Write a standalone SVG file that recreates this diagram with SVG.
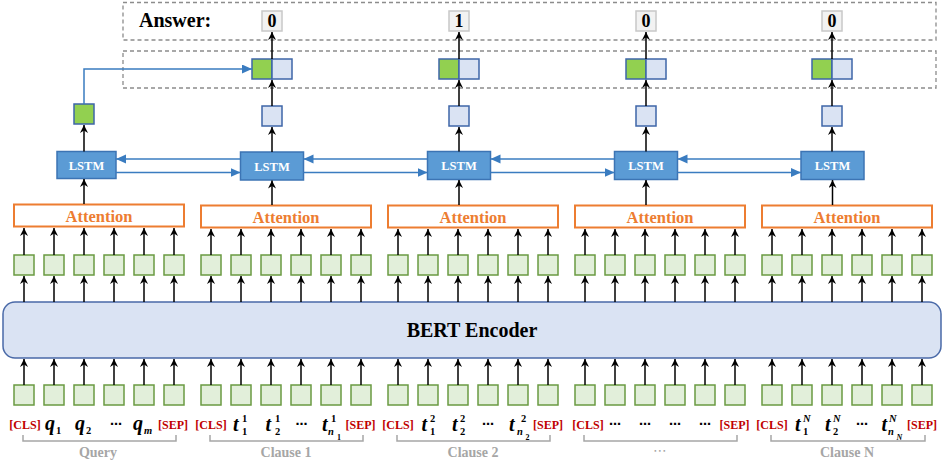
<svg xmlns="http://www.w3.org/2000/svg" width="942" height="467" viewBox="0 0 942 467">
<style>
.ser{font-family:"Liberation Serif","DejaVu Serif",serif;font-weight:bold}
.dash{fill:none;stroke:#8c8c8c;stroke-width:1.3;stroke-dasharray:4 3}
.ans{fill:#f2f2f2;stroke:#c8c8c8;stroke-width:1.5}
.ansT{font-size:18px;fill:#000;text-anchor:middle}
.gq{fill:#92d050;stroke:#3e66a8;stroke-width:1.5}
.bq{fill:#dae3f3;stroke:#3e66a8;stroke-width:1.5}
.lstm{fill:#5b9bd5;stroke:#3c74b4;stroke-width:1.5}
.lstmT{font-size:12.5px;fill:#fff;text-anchor:middle}
.att{fill:#fff;stroke:#ed7d31;stroke-width:2}
.attT{font-size:16.5px;fill:#ed7d31;text-anchor:middle}
.tk{fill:#e2efda;stroke:#6a9a42;stroke-width:1.5}
.bert{fill:#dae3f3;stroke:#4a6aa8;stroke-width:1.5}
.arr path{fill:none;stroke:#000;stroke-width:1.5;marker-end:url(#ah)}
.blu path{fill:none;stroke:#3a7cc0;stroke-width:1.5;marker-end:url(#bh)}
.sp{font-size:12px;fill:#c00000;text-anchor:middle}
.m{font-size:20px;font-style:italic;fill:#000}
.sd{font-size:10.5px;fill:#000}
.si{font-size:10.5px;font-style:italic;fill:#000}
.ss{font-size:8px;fill:#000}
.ssi{font-size:8px;font-style:italic;fill:#000}
.dots{font-family:"DejaVu Sans",sans-serif;font-size:12px;fill:#000;text-anchor:middle}
.br{fill:none;stroke:#a6a6a6;stroke-width:1.5}
.lab{font-size:14px;fill:#a6a6a6;text-anchor:middle}
</style>
<defs>
<marker id="ah" markerUnits="userSpaceOnUse" markerWidth="9" markerHeight="9" refX="8" refY="4" orient="auto" viewBox="0 0 9 9">
<path d="M0,0 L8,4 L0,8 L2.5,4 z" fill="#000"/>
</marker>
<marker id="bh" markerUnits="userSpaceOnUse" markerWidth="11" markerHeight="10" refX="10" refY="4.5" orient="auto" viewBox="0 0 11 10">
<path d="M0,0 L10,4.5 L0,9 z" fill="#3a7cc0"/>
</marker>
</defs>
<rect width="942" height="467" fill="#fff"/>

<g id="answer-row">
<rect class="dash" x="123" y="2.5" width="813" height="37.5"/>
<text class="ser" x="139" y="27" font-size="20">Answer:</text>
<rect class="ans" x="262" y="11" width="20" height="20"/><text class="ser ansT" x="272" y="27">0</text>
<rect class="ans" x="449" y="11" width="20" height="20"/><text class="ser ansT" x="459" y="27">1</text>
<rect class="ans" x="636" y="11" width="20" height="20"/><text class="ser ansT" x="646" y="27">0</text>
<rect class="ans" x="822" y="11" width="20" height="20"/><text class="ser ansT" x="832" y="27">0</text>
</g>

<g id="concat-row">
<rect class="dash" x="123" y="51" width="813" height="37"/>
<rect class="gq" x="252" y="59" width="20" height="20"/><rect class="bq" x="272" y="59" width="20" height="20"/>
<rect class="gq" x="439" y="59" width="20" height="20"/><rect class="bq" x="459" y="59" width="20" height="20"/>
<rect class="gq" x="626" y="59" width="20" height="20"/><rect class="bq" x="646" y="59" width="20" height="20"/>
<rect class="gq" x="812" y="59" width="20" height="20"/><rect class="bq" x="832" y="59" width="20" height="20"/>
</g>

<g id="hidden-states">
<rect class="gq" x="74" y="104" width="20" height="20"/>
<rect class="bq" x="262" y="106" width="20" height="20"/>
<rect class="bq" x="449" y="106" width="20" height="20"/>
<rect class="bq" x="636" y="106" width="20" height="20"/>
<rect class="bq" x="822" y="106" width="20" height="20"/>
</g>

<g id="lstm">
<rect class="lstm" x="57" y="151.5" width="59" height="27"/><text class="ser lstmT" x="86.5" y="169.5">LSTM</text>
<rect class="lstm" x="240.5" y="152" width="63" height="28"/><text class="ser lstmT" x="272" y="170.5">LSTM</text>
<rect class="lstm" x="427.5" y="151.5" width="63" height="28"/><text class="ser lstmT" x="459" y="170">LSTM</text>
<rect class="lstm" x="614.5" y="151.5" width="63" height="28"/><text class="ser lstmT" x="646" y="170">LSTM</text>
<rect class="lstm" x="801" y="151.5" width="63" height="28"/><text class="ser lstmT" x="832.5" y="170">LSTM</text>
</g>

<g id="attention">
<rect class="att" x="14" y="204.5" width="170" height="22"/><text class="ser attT" x="99" y="221.5">Attention</text>
<rect class="att" x="201" y="205.5" width="170" height="22"/><text class="ser attT" x="286" y="222.5">Attention</text>
<rect class="att" x="388" y="205.5" width="170" height="22"/><text class="ser attT" x="473" y="222.5">Attention</text>
<rect class="att" x="575" y="205.5" width="170" height="22"/><text class="ser attT" x="660" y="222.5">Attention</text>
<rect class="att" x="762" y="205.5" width="170" height="22"/><text class="ser attT" x="847" y="222.5">Attention</text>
</g>

<g id="upper-tokens">
<rect class="tk" x="14" y="255" width="20" height="20"/><rect class="tk" x="44" y="255" width="20" height="20"/><rect class="tk" x="74" y="255" width="20" height="20"/><rect class="tk" x="104" y="255" width="20" height="20"/><rect class="tk" x="134" y="255" width="20" height="20"/><rect class="tk" x="164" y="255" width="20" height="20"/>
<rect class="tk" x="201" y="255" width="20" height="20"/><rect class="tk" x="231" y="255" width="20" height="20"/><rect class="tk" x="261" y="255" width="20" height="20"/><rect class="tk" x="291" y="255" width="20" height="20"/><rect class="tk" x="321" y="255" width="20" height="20"/><rect class="tk" x="351" y="255" width="20" height="20"/>
<rect class="tk" x="388" y="255" width="20" height="20"/><rect class="tk" x="418" y="255" width="20" height="20"/><rect class="tk" x="448" y="255" width="20" height="20"/><rect class="tk" x="478" y="255" width="20" height="20"/><rect class="tk" x="508" y="255" width="20" height="20"/><rect class="tk" x="538" y="255" width="20" height="20"/>
<rect class="tk" x="575" y="255" width="20" height="20"/><rect class="tk" x="605" y="255" width="20" height="20"/><rect class="tk" x="635" y="255" width="20" height="20"/><rect class="tk" x="665" y="255" width="20" height="20"/><rect class="tk" x="695" y="255" width="20" height="20"/><rect class="tk" x="725" y="255" width="20" height="20"/>
<rect class="tk" x="762" y="255" width="20" height="20"/><rect class="tk" x="792" y="255" width="20" height="20"/><rect class="tk" x="822" y="255" width="20" height="20"/><rect class="tk" x="852" y="255" width="20" height="20"/><rect class="tk" x="882" y="255" width="20" height="20"/><rect class="tk" x="912" y="255" width="20" height="20"/>
</g>

<g id="bert-encoder">
<rect class="bert" x="3" y="302" width="938" height="56" rx="12"/>
<text class="ser" x="472" y="337" font-size="20" text-anchor="middle">BERT Encoder</text>
</g>

<g id="lower-tokens">
<rect class="tk" x="14" y="385" width="20" height="20"/><rect class="tk" x="44" y="385" width="20" height="20"/><rect class="tk" x="74" y="385" width="20" height="20"/><rect class="tk" x="104" y="385" width="20" height="20"/><rect class="tk" x="134" y="385" width="20" height="20"/><rect class="tk" x="164" y="385" width="20" height="20"/>
<rect class="tk" x="201" y="385" width="20" height="20"/><rect class="tk" x="231" y="385" width="20" height="20"/><rect class="tk" x="261" y="385" width="20" height="20"/><rect class="tk" x="291" y="385" width="20" height="20"/><rect class="tk" x="321" y="385" width="20" height="20"/><rect class="tk" x="351" y="385" width="20" height="20"/>
<rect class="tk" x="388" y="385" width="20" height="20"/><rect class="tk" x="418" y="385" width="20" height="20"/><rect class="tk" x="448" y="385" width="20" height="20"/><rect class="tk" x="478" y="385" width="20" height="20"/><rect class="tk" x="508" y="385" width="20" height="20"/><rect class="tk" x="538" y="385" width="20" height="20"/>
<rect class="tk" x="575" y="385" width="20" height="20"/><rect class="tk" x="605" y="385" width="20" height="20"/><rect class="tk" x="635" y="385" width="20" height="20"/><rect class="tk" x="665" y="385" width="20" height="20"/><rect class="tk" x="695" y="385" width="20" height="20"/><rect class="tk" x="725" y="385" width="20" height="20"/>
<rect class="tk" x="762" y="385" width="20" height="20"/><rect class="tk" x="792" y="385" width="20" height="20"/><rect class="tk" x="822" y="385" width="20" height="20"/><rect class="tk" x="852" y="385" width="20" height="20"/><rect class="tk" x="882" y="385" width="20" height="20"/><rect class="tk" x="912" y="385" width="20" height="20"/>
</g>

<g id="token-labels" class="ser">
<text class="sp" x="25" y="429">[CLS]</text>
<text class="m" x="45" y="430">q</text><text class="sd" x="56" y="434">1</text>
<text class="m" x="75" y="430">q</text><text class="sd" x="86" y="434">2</text>
<text class="dots" x="116" y="428">⋯</text>
<text class="m" x="133" y="430">q</text><text class="si" x="144" y="434">m</text>
<text class="sp" x="173" y="429">[SEP]</text>

<text class="sp" x="211" y="429">[CLS]</text>
<text class="m" x="233" y="431">t</text><text class="sd" x="242" y="422">1</text><text class="sd" x="242" y="435">1</text>
<text class="m" x="265.5" y="431">t</text><text class="sd" x="275" y="422">1</text><text class="sd" x="275" y="435">2</text>
<text class="dots" x="301.5" y="428">⋯</text>
<text class="m" x="322" y="431">t</text><text class="sd" x="331" y="422">1</text><text class="si" x="328" y="435">n</text><text class="ss" x="337" y="440">1</text>
<text class="sp" x="360.5" y="429">[SEP]</text>

<text class="sp" x="398" y="429">[CLS]</text>
<text class="m" x="421.5" y="431">t</text><text class="sd" x="430" y="422">2</text><text class="sd" x="430" y="435">1</text>
<text class="m" x="452" y="431">t</text><text class="sd" x="460" y="422">2</text><text class="sd" x="460" y="435">2</text>
<text class="dots" x="488" y="428">⋯</text>
<text class="m" x="509" y="431">t</text><text class="sd" x="521" y="422">2</text><text class="si" x="517" y="435">n</text><text class="ss" x="525.5" y="440">2</text>
<text class="sp" x="548" y="429">[SEP]</text>

<text class="sp" x="588" y="429">[CLS]</text>
<text class="dots" x="615" y="428">⋯</text>
<text class="dots" x="645" y="428">⋯</text>
<text class="dots" x="675" y="428">⋯</text>
<text class="dots" x="705" y="428">⋯</text>
<text class="sp" x="734.5" y="429">[SEP]</text>

<text class="sp" x="772" y="429">[CLS]</text>
<text class="m" x="795" y="431">t</text><text class="si" x="803" y="422">N</text><text class="sd" x="803" y="435">1</text>
<text class="m" x="825" y="431">t</text><text class="si" x="833" y="422">N</text><text class="sd" x="833" y="435">2</text>
<text class="dots" x="862" y="428">⋯</text>
<text class="m" x="881.5" y="431">t</text><text class="si" x="889" y="422">N</text><text class="si" x="888" y="435">n</text><text class="ssi" x="896.5" y="440">N</text>
<text class="sp" x="922" y="429">[SEP]</text>
</g>

<g id="segment-brackets">
<path class="br" d="M23 435V441H176V435"/>
<path class="br" d="M210 435V441H363V435"/>
<path class="br" d="M397 435V441H550V435"/>
<path class="br" d="M584 435V441H737V435"/>
<path class="br" d="M771 435V441H925V435"/>
<text class="ser lab" x="98" y="457">Query</text>
<text class="ser lab" x="286" y="457">Clause 1</text>
<text class="ser lab" x="473" y="457">Clause 2</text>
<text class="lab" x="660" y="455" font-family="DejaVu Sans,sans-serif" font-size="12">⋯</text>
<text class="ser lab" x="847" y="457">Clause N</text>
</g>

<g id="connectors">
<g class="arr">
<path d="M24 385V359"/><path d="M54 385V359"/><path d="M84 385V359"/><path d="M114 385V359"/><path d="M144 385V359"/><path d="M174 385V359"/>
<path d="M211 385V359"/><path d="M241 385V359"/><path d="M271 385V359"/><path d="M301 385V359"/><path d="M331 385V359"/><path d="M361 385V359"/>
<path d="M398 385V359"/><path d="M428 385V359"/><path d="M458 385V359"/><path d="M488 385V359"/><path d="M518 385V359"/><path d="M548 385V359"/>
<path d="M585 385V359"/><path d="M615 385V359"/><path d="M645 385V359"/><path d="M675 385V359"/><path d="M705 385V359"/><path d="M735 385V359"/>
<path d="M772 385V359"/><path d="M802 385V359"/><path d="M832 385V359"/><path d="M862 385V359"/><path d="M892 385V359"/><path d="M922 385V359"/>

<path d="M24 302V276"/><path d="M54 302V276"/><path d="M84 302V276"/><path d="M114 302V276"/><path d="M144 302V276"/><path d="M174 302V276"/>
<path d="M211 302V276"/><path d="M241 302V276"/><path d="M271 302V276"/><path d="M301 302V276"/><path d="M331 302V276"/><path d="M361 302V276"/>
<path d="M398 302V276"/><path d="M428 302V276"/><path d="M458 302V276"/><path d="M488 302V276"/><path d="M518 302V276"/><path d="M548 302V276"/>
<path d="M585 302V276"/><path d="M615 302V276"/><path d="M645 302V276"/><path d="M675 302V276"/><path d="M705 302V276"/><path d="M735 302V276"/>
<path d="M772 302V276"/><path d="M802 302V276"/><path d="M832 302V276"/><path d="M862 302V276"/><path d="M892 302V276"/><path d="M922 302V276"/>

<path d="M24 255V228"/><path d="M54 255V228"/><path d="M84 255V228"/><path d="M114 255V228"/><path d="M144 255V228"/><path d="M174 255V228"/>
<path d="M211 255V229"/><path d="M241 255V229"/><path d="M271 255V229"/><path d="M301 255V229"/><path d="M331 255V229"/><path d="M361 255V229"/>
<path d="M398 255V229"/><path d="M428 255V229"/><path d="M458 255V229"/><path d="M488 255V229"/><path d="M518 255V229"/><path d="M548 255V229"/>
<path d="M585 255V229"/><path d="M615 255V229"/><path d="M645 255V229"/><path d="M675 255V229"/><path d="M705 255V229"/><path d="M735 255V229"/>
<path d="M772 255V229"/><path d="M802 255V229"/><path d="M832 255V229"/><path d="M862 255V229"/><path d="M892 255V229"/><path d="M922 255V229"/>

<path d="M84 204V179"/><path d="M272 205V180.5"/><path d="M459 205V180"/><path d="M646 205V180"/><path d="M832.5 205V180"/>
<path d="M84 151.5V125"/><path d="M272 152V127"/><path d="M459 151.5V127"/><path d="M646 151.5V127"/><path d="M832 151.5V127"/>
<path d="M272 106V80"/><path d="M459 106V80"/><path d="M646 106V80"/><path d="M832 106V80"/>
<path d="M272 59V32"/><path d="M459 59V32"/><path d="M646 59V32"/><path d="M832 59V32"/>
</g>
<g class="blu">
<path d="M84 104V69H252"/>
<path d="M240.5 159H116"/><path d="M116 172.5H240.5"/>
<path d="M427.5 159H303.5"/><path d="M303.5 172.5H427.5"/>
<path d="M614.5 159H490.5"/><path d="M490.5 172.5H614.5"/>
<path d="M801 159H677.5"/><path d="M677.5 172.5H801"/>
</g>
</g>
</svg>
